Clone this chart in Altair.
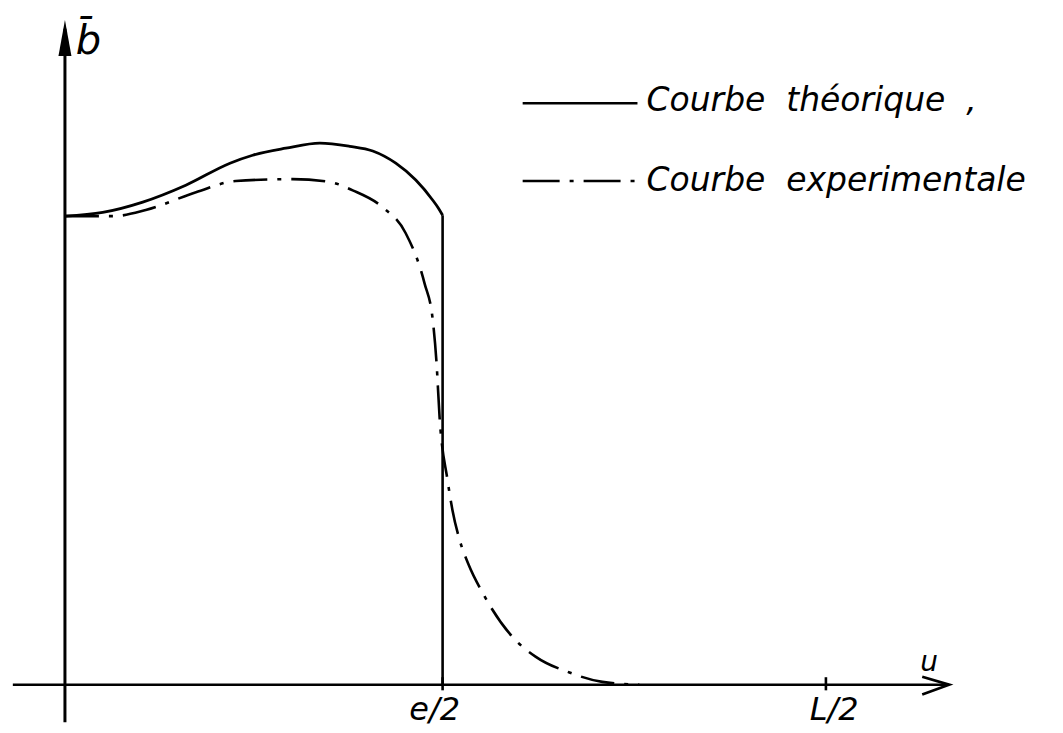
import altair as alt
import pandas as pd

# Theoretical curve (u in units of e/2, b normalised to b(0)=1)
theo_u = [0.0, 0.100, 0.206, 0.320, 0.437, 0.497, 0.585, 0.675, 0.754, 0.815, 0.876, 0.929, 0.974, 0.989, 1.0]
theo_b = [1.0, 1.008, 1.030, 1.066, 1.113, 1.130, 1.145, 1.156, 1.149, 1.139, 1.113, 1.077, 1.034, 1.017, 1.002]
# vertical drop of the theoretical curve at u = e/2
drop_u = [1.0, 1.0]
drop_b = [1.002, 0.0]

# Experimental curve
exp_u = [0.0, 0.127, 0.214, 0.347, 0.452, 0.603, 0.701, 0.762, 0.841, 0.902, 0.952, 0.974,
         0.984, 0.992, 1.013, 1.026, 1.045, 1.069, 1.106, 1.185, 1.246, 1.336, 1.423, 1.521]
exp_b = [1.0, 1.0, 1.013, 1.051, 1.075, 1.079, 1.073, 1.055, 1.019, 0.964, 0.857, 0.778,
         0.686, 0.571, 0.437, 0.373, 0.309, 0.256, 0.196, 0.102, 0.060, 0.026, 0.006, 0.0]

# Axes (drawn as lines)
xaxis_u = [-0.138, 2.341]
yaxis_b = [-0.08, 1.40]
xarrow_u = [2.270, 2.341, 2.270]
xarrow_b = [0.017, 0.0, -0.021]
tick_u = [1.0, 2.015]
tick_labels = ["e/2", "L/2"]

# Legend (non-breaking spaces keep the wide handwritten spacing)
NB = "\u00a0"
legend_names = ["Courbe" + NB * 2 + "théorique" + NB * 2 + ",", "Courbe" + NB * 2 + "experimentale"]
legend_b = [1.241, 1.075]
legend_text_b = [1.224, 1.054]
legend_u = [1.212, 1.516]
legend_text_u = 1.540

U_DOM = [-0.14286, 2.6216]
B_DOM = [-0.0810, 1.4435]

xs = alt.Scale(domain=U_DOM, nice=False, zero=False)
ys = alt.Scale(domain=B_DOM, nice=False, zero=False)


def X(f="u"):
    return alt.X(f"{f}:Q", scale=xs, axis=None)


def Y(f="b"):
    return alt.Y(f"{f}:Q", scale=ys, axis=None)


BLACK = "#000000"

theo = alt.Chart(pd.DataFrame({"u": theo_u, "b": theo_b})).mark_line(
    color=BLACK, strokeWidth=2.8, interpolate="monotone"
).encode(x=X(), y=Y())

drop = alt.Chart(pd.DataFrame({"u": drop_u, "b": drop_b})).mark_line(
    color=BLACK, strokeWidth=2.6
).encode(x=X(), y=Y())

expc = alt.Chart(pd.DataFrame({"u": exp_u, "b": exp_b})).mark_line(
    color=BLACK, strokeWidth=2.6, interpolate="monotone", strokeDash=[34, 10, 4, 10]
).encode(x=X(), y=Y())

xaxis = alt.Chart(pd.DataFrame({"u": xaxis_u, "b": [0.0, 0.0]})).mark_line(
    color=BLACK, strokeWidth=2.4
).encode(x=X(), y=Y())

yaxis = alt.Chart(pd.DataFrame({"u": [0.0, 0.0], "b": yaxis_b})).mark_line(
    color=BLACK, strokeWidth=3
).encode(x=X(), y=Y())

xarrow = alt.Chart(pd.DataFrame({"u": xarrow_u, "b": xarrow_b, "o": [0, 1, 2]})).mark_line(
    color=BLACK, strokeWidth=2.8
).encode(x=X(), y=Y(), order="o:O")

yarrow = alt.Chart(pd.DataFrame({"u": [0.0], "b": [1.380]})).mark_point(
    shape="M0,-1L0.36,1L-0.36,1Z", filled=True, color=BLACK, opacity=1, size=1300
).encode(x=X(), y=Y())

ticks = alt.Chart(pd.DataFrame({"u": tick_u, "b": [0.016] * 2, "b2": [-0.012] * 2})).mark_rule(
    color=BLACK, strokeWidth=2.6
).encode(x=X(), y=Y(), y2="b2:Q")

tick_text = alt.Chart(pd.DataFrame({"u": [0.979, 2.037], "b": [-0.055] * 2, "t": tick_labels})).mark_text(
    font="DejaVu Sans", fontStyle="italic", fontSize=32, color=BLACK, baseline="middle", align="center"
).encode(x=X(), y=Y(), text="t:N")

axis_text = alt.Chart(pd.DataFrame({"u": [0.062, 2.288], "b": [1.372, 0.046], "t": ["b\u0304", "u"],
                                    "s": [40, 28]})).mark_text(
    font="DejaVu Sans", fontStyle="italic", color=BLACK, baseline="middle", align="center"
).encode(x=X(), y=Y(), text="t:N", size=alt.Size("s:Q", scale=None, legend=None))

leg_rows = []
for i, name in enumerate(legend_names):
    for u in legend_u:
        leg_rows.append({"name": name, "u": u, "b": legend_b[i]})
leg_df = pd.DataFrame(leg_rows)

leg_solid = alt.Chart(leg_df[leg_df.name == legend_names[0]]).mark_line(
    color=BLACK, strokeWidth=2.6
).encode(x=X(), y=Y())
leg_dash = alt.Chart(leg_df[leg_df.name == legend_names[1]]).mark_line(
    color=BLACK, strokeWidth=2.6, strokeDash=[37, 10, 4, 10]
).encode(x=X(), y=Y())

leg_text = alt.Chart(pd.DataFrame({"u": [legend_text_u] * 2, "b": legend_text_b, "t": legend_names})).mark_text(
    font="DejaVu Sans", fontStyle="italic", fontSize=33, color=BLACK, baseline="alphabetic", align="left"
).encode(x=X(), y=Y(), text="t:N")

chart = alt.layer(
    xaxis, yaxis, xarrow, yarrow, ticks, drop, theo, expc,
    tick_text, axis_text, leg_solid, leg_dash, leg_text
).properties(width=1045, height=715, padding=0).configure_view(stroke=None)

chart.save("out.html", embed_options={"renderer": "svg", "actions": False})
